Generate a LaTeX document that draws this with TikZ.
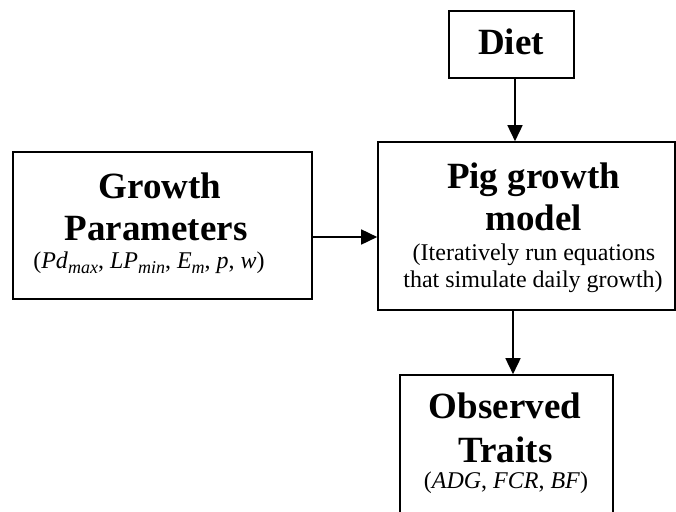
\documentclass[tikz,border=0pt]{standalone}
\usepackage{fontspec}
\setmainfont{Liberation Serif}
\usetikzlibrary{arrows.meta}
% italic subscript, a little larger than the default \textsubscript
\newcommand{\isub}[1]{\raisebox{-5pt}{\fontsize{18}{18}\selectfont\itshape #1}}
\begin{document}
\begin{tikzpicture}[x=1pt,y=-1pt,
  box/.style={draw=black,line width=1.6pt,inner sep=0pt,fill=white},
  title/.style={anchor=base,inner sep=0pt,font=\fontsize{37}{42}\selectfont\bfseries},
  note/.style={anchor=base,inner sep=0pt,font=\fontsize{24}{27}\selectfont},
  flow/.style={line width=1.6pt,-{Triangle[length=16pt,width=15pt]}}]
\useasboundingbox (0,0) rectangle (676,511);

% boxes
\node[box,minimum width=125pt,minimum height=67pt] (diet) at (511.5,44.5) {};
\node[box,minimum width=297pt,minimum height=168pt] (model) at (526.5,226) {};
\node[box,minimum width=299pt,minimum height=147pt] (params) at (162.5,225.5) {};
\begin{scope}
  \clip (0,0) rectangle (676,511);
  \node[box,minimum width=213pt,minimum height=160pt] (traits) at (506.5,455) {};
\end{scope}

% texts
\node[title] (dietT) at (511,55) {Diet};

\node[title] (modelA) at (533.5,188) {Pig growth};
\node[title] (modelB) at (533.5,230) {model};
\node[note] (modelC) at (534,260) {(Iteratively run equations};
\node[note] (modelD) at (533,287) {that simulate daily growth)};

\node[title] (paramsA) at (160,198) {Growth};
\node[title] (paramsB) at (156,240) {Parameters};
\node[note] (paramsC) at (149,268) {(\textit{Pd}\isub{max}, \textit{LP}\isub{min}, \textit{E}\isub{m}, \textit{p}, \textit{w})};

\node[title] (traitsA) at (505,418) {Observed};
\node[title] (traitsB) at (505.5,462) {Traits};
\node[note] (traitsC) at (506,488) {(\textit{ADG}, \textit{FCR}, \textit{BF})};

% connectors
\draw[flow] (diet.south -| 515,0) -- (model.north -| 515,0);
\draw[flow] (params.east |- 0,237) -- (model.west |- 0,237);
\draw[flow] (model.south -| 513,0) -- (traits.north -| 513,0);
\end{tikzpicture}
\end{document}
